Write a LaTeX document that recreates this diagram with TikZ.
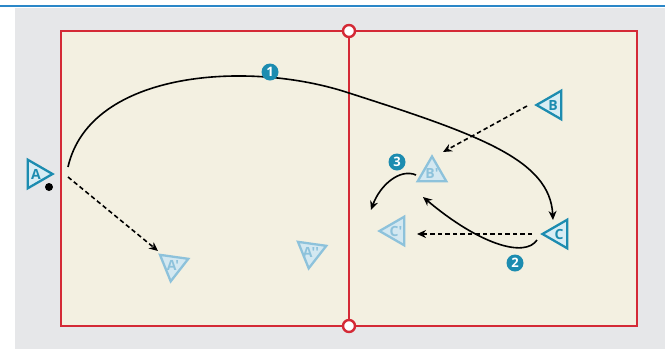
\documentclass[tikz,border=0pt]{standalone}
\usepackage{fontspec}
\newfontfamily\courtfont{Open Sans}
\usetikzlibrary{shapes.geometric, arrows.meta}
\definecolor{courtred}{HTML}{D42A36}
\definecolor{courtsand}{HTML}{F3F0E1}
\definecolor{courtgray}{HTML}{E6E7E9}
\definecolor{courtblue}{HTML}{2B87C8}
\definecolor{courtteal}{HTML}{1C8CB0}
\definecolor{courttealpale}{HTML}{D8EDF4}
\definecolor{courtsky}{HTML}{8DC2DB}
\definecolor{courtskypale}{HTML}{D3E8F1}
\newcommand{\plr}[1]{\makebox[0pt]{\smash{\raisebox{-0.5\height}{#1}}}}

\begin{document}
\begin{tikzpicture}[x=1pt, y=-1pt,
  player/.style={regular polygon, regular polygon sides=3, minimum size=33pt, inner sep=0pt, line width=2.3pt, draw=courtteal, fill=courttealpale, text=courtteal, font=\courtfont\bfseries\fontsize{14}{14}\selectfont},
  ghost/.style={player, draw=courtsky, fill=courtskypale, text=courtsky},
  num/.style={circle, fill=courtteal, text=white, inner sep=0pt, minimum size=17pt, font=\courtfont\bfseries\fontsize{13}{13}\selectfont},
  netpost/.style={circle, draw=courtred, fill=white, line width=2.4pt, minimum size=12pt, inner sep=0pt},
  run/.style={line width=1.6pt, -{Stealth[length=9pt,width=8pt]}},
  pass/.style={run, dash pattern=on 4.5pt off 3pt}
]
\useasboundingbox (0,0) rectangle (665,349);
\fill[courtgray] (15,8) rectangle (665,349);
\draw[courtblue, line width=2.8pt] (0,6) -- (665,6);

\draw[courtred, line width=2.9pt, fill=courtsand] (61,31) rectangle (637,326);
\node[netpost] (nettop) at (349,31) {};
\node[netpost] (netbot) at (349,326) {};
\draw[courtred, line width=2.9pt] (nettop) -- (netbot);

\node[player, shape border rotate=-90] (a) at (36,174) {\plr{A}};
\node[circle, fill=black, inner sep=0pt, minimum size=8pt] (ball) at (49,187) {};
\node[ghost, shape border rotate=172] (a2) at (173,265) {\plr{A'}};
\node[ghost, shape border rotate=172] (a3) at (311,252) {\plr{A''}};
\node[player, shape border rotate=90] (b) at (553,105) {\plr{B}};
\node[ghost] (b2) at (432,173) {\plr{B'}};
\node[player, shape border rotate=90] (c) at (559,234) {\plr{C}};
\node[ghost, shape border rotate=90] (c2) at (396,231) {\plr{C'}};

\coordinate (a1) at (68,167);
\coordinate (c1) at (553,220);
\draw[run] (a1) .. controls (90,70) and (250,60) .. (349,93) .. controls (480,135) and (550,160) .. (c1);
\coordinate (a4) at (68,177);
\coordinate (a5) at (158,251);
\draw[pass] (a4) -- (a5);
\coordinate (b3) at (527,106);
\coordinate (b4) at (443,152);
\draw[pass] (b3) -- (b4);
\coordinate (c3) at (532,234);
\coordinate (c4) at (417,234);
\draw[pass] (c3) -- (c4);
\coordinate (c5) at (537,240);
\coordinate (b5) at (423,197);
\draw[run] (c5) .. controls (525,258) and (480,245) .. (b5);
\coordinate (b6) at (416,175);
\coordinate (c6) at (371,210);
\draw[run] (b6) .. controls (400,168) and (380,185) .. (c6);

\node[num] (n1) at (270,72) {1};
\node[num] (n2) at (515,263) {2};
\node[num] (n3) at (397,162) {3};
\end{tikzpicture}
\end{document}
